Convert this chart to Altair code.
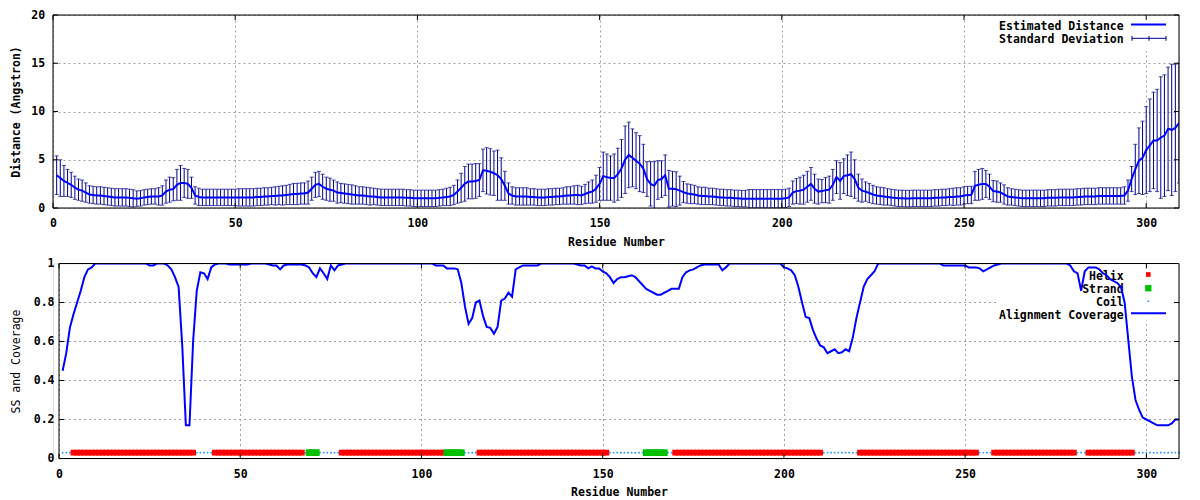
import altair as alt
import pandas as pd

# ---------------- data ----------------
residues = list(range(1, 310))

distance = [
    3.4, 3.1, 2.8, 2.6, 2.4, 2.1, 1.9, 1.8, 1.6, 1.4,
    1.35, 1.3, 1.3, 1.25, 1.2, 1.15, 1.1, 1.1, 1.1, 1.1,
    1.05, 1.0, 0.97, 1.0, 1.1, 1.15, 1.2, 1.2, 1.2, 1.3,
    1.7, 1.9, 1.95, 2.4, 2.6, 2.6, 2.5, 2.1, 1.3, 1.15,
    1.1, 1.1, 1.1, 1.1, 1.1, 1.1, 1.1, 1.1, 1.1, 1.1,
    1.1, 1.1, 1.1, 1.1, 1.1, 1.15, 1.15, 1.2, 1.2, 1.25,
    1.25, 1.3, 1.3, 1.35, 1.4, 1.45, 1.45, 1.5, 1.5, 1.6,
    2.0, 2.4, 2.5, 2.2, 2.0, 1.9, 1.8, 1.6, 1.55, 1.5,
    1.45, 1.4, 1.35, 1.3, 1.3, 1.25, 1.2, 1.2, 1.15, 1.1,
    1.1, 1.1, 1.1, 1.1, 1.1, 1.1, 1.05, 1.05, 1.0, 1.0,
    1.0, 1.0, 1.0, 1.0, 1.0, 1.05, 1.1, 1.15, 1.2, 1.35,
    1.7, 2.1, 2.5, 2.75, 2.75, 2.8, 2.9, 3.9, 3.85, 3.75,
    3.6, 3.4, 3.0, 2.3, 1.5, 1.3, 1.2, 1.2, 1.2, 1.2,
    1.15, 1.15, 1.1, 1.1, 1.1, 1.15, 1.15, 1.2, 1.2, 1.25,
    1.3, 1.3, 1.35, 1.35, 1.3, 1.45, 1.6, 1.7, 2.0, 2.5,
    3.3, 3.2, 3.1, 3.1, 3.5, 4.1, 5.0, 5.5, 5.2, 4.9,
    4.6, 4.1, 3.0, 2.5, 2.3, 2.9, 3.0, 3.4, 2.0, 2.0,
    1.95, 1.8, 1.65, 1.5, 1.45, 1.4, 1.3, 1.25, 1.25, 1.2,
    1.2, 1.15, 1.1, 1.1, 1.05, 1.05, 1.0, 1.0, 0.97, 0.97,
    0.96, 0.96, 0.96, 0.96, 0.96, 0.96, 0.96, 0.96, 0.96, 0.96,
    1.0, 1.1, 1.6, 1.75, 1.8, 1.9, 2.2, 2.5, 2.0, 1.7,
    1.75, 1.85, 1.9, 2.4, 3.2, 2.8, 3.3, 3.4, 3.5, 3.0,
    2.1, 1.8, 1.7, 1.55, 1.4, 1.3, 1.25, 1.2, 1.15, 1.1,
    1.05, 1.0, 1.0, 0.98, 0.98, 1.0, 1.0, 1.0, 1.0, 1.0,
    1.0, 1.05, 1.05, 1.1, 1.1, 1.15, 1.15, 1.2, 1.2, 1.3,
    1.35, 1.35, 2.3, 2.4, 2.5, 2.5, 2.2, 1.75, 1.7, 1.6,
    1.4, 1.2, 1.15, 1.1, 1.05, 1.0, 1.0, 1.0, 1.0, 1.0,
    1.0, 1.0, 1.05, 1.05, 1.05, 1.1, 1.1, 1.1, 1.1, 1.1,
    1.15, 1.15, 1.2, 1.2, 1.2, 1.2, 1.25, 1.25, 1.25, 1.25,
    1.25, 1.25, 1.25, 1.3, 1.8, 3.0, 4.0, 4.9, 5.2, 6.0,
    6.5, 7.0, 7.0, 7.3, 7.5, 8.2, 8.1, 8.3, 8.8,
]

std_dev = [
    2.0, 1.9, 1.6, 1.4, 1.3, 1.2, 1.1, 1.1, 1.0, 0.9,
    0.9, 0.9, 0.9, 0.9, 0.9, 0.9, 0.9, 0.9, 0.9, 0.9,
    0.9, 0.9, 0.8, 0.8, 0.8, 0.8, 0.8, 0.8, 0.9, 1.0,
    1.2, 1.3, 1.2, 1.6, 1.8, 1.5, 1.5, 1.1, 0.9, 0.9,
    0.85, 0.85, 0.85, 0.85, 0.85, 0.85, 0.85, 0.85, 0.85, 0.85,
    0.9, 0.9, 0.9, 0.9, 0.9, 0.9, 0.9, 0.9, 0.9, 0.9,
    0.95, 0.95, 1.0, 1.0, 1.05, 1.1, 1.1, 1.1, 1.1, 1.2,
    1.2, 1.3, 1.3, 1.3, 1.2, 1.2, 1.1, 1.1, 1.0, 1.0,
    1.0, 1.0, 0.95, 0.9, 0.9, 0.9, 0.9, 0.85, 0.85, 0.85,
    0.85, 0.85, 0.85, 0.85, 0.85, 0.85, 0.85, 0.85, 0.85, 0.85,
    0.85, 0.85, 0.85, 0.85, 0.85, 0.85, 0.85, 0.9, 0.95, 1.0,
    1.2, 1.5, 1.8, 1.8, 1.8, 1.8, 1.7, 2.2, 2.4, 2.4,
    2.3, 2.6, 2.2, 1.5, 1.1, 0.9, 0.9, 0.9, 0.9, 0.9,
    0.85, 0.85, 0.85, 0.85, 0.85, 0.85, 0.85, 0.85, 0.85, 0.85,
    0.9, 0.9, 0.95, 1.0, 0.95, 1.0, 1.1, 1.2, 1.4, 1.7,
    2.5, 2.4, 2.3, 2.5, 2.7, 3.0, 3.5, 3.4, 3.0, 2.9,
    2.9, 2.5, 1.8, 2.3, 2.5, 2.0, 1.9, 2.1, 1.9, 1.8,
    1.8, 1.5, 1.1, 1.0, 1.0, 0.95, 0.9, 0.9, 0.9, 0.85,
    0.85, 0.85, 0.85, 0.85, 0.85, 0.85, 0.85, 0.85, 0.85, 0.85,
    0.95, 0.95, 0.95, 0.95, 0.95, 0.95, 0.95, 0.95, 0.95, 0.95,
    0.95, 0.95, 1.2, 1.3, 1.4, 1.5, 1.6, 1.7, 1.5, 1.3,
    1.2, 1.3, 1.4, 1.6, 1.7, 1.9, 1.8, 2.1, 2.3, 2.0,
    1.4, 1.2, 1.0, 1.0, 0.95, 0.9, 0.9, 0.9, 0.85, 0.85,
    0.85, 0.85, 0.85, 0.85, 0.85, 0.85, 0.85, 0.85, 0.85, 0.85,
    0.85, 0.85, 0.85, 0.85, 0.85, 0.85, 0.9, 0.9, 0.9, 0.9,
    0.9, 0.9, 1.5, 1.6, 1.6, 1.4, 1.3, 1.1, 1.1, 1.0,
    1.0, 0.9, 0.85, 0.85, 0.85, 0.85, 0.85, 0.85, 0.85, 0.85,
    0.85, 0.85, 0.85, 0.85, 0.85, 0.85, 0.85, 0.85, 0.85, 0.85,
    0.85, 0.85, 0.85, 0.85, 0.85, 0.85, 0.85, 0.85, 0.85, 0.85,
    0.85, 0.85, 0.85, 0.9, 1.1, 1.3, 2.6, 3.4, 3.8, 4.5,
    4.8, 5.0, 5.3, 6.3, 6.3, 6.4, 6.8, 6.6, 6.2,
]

coverage = [
    0.45, 0.54, 0.67, 0.74, 0.80, 0.86, 0.93, 0.97, 0.98, 1.0,
    1.0, 1.0, 1.0, 1.0, 1.0, 1.0, 1.0, 1.0, 1.0, 1.0,
    1.0, 1.0, 1.0, 1.0, 0.99, 0.99, 1.0, 1.0, 1.0, 0.99,
    0.97, 0.93, 0.88, 0.58, 0.17, 0.17, 0.60, 0.86, 0.955, 0.95,
    0.92, 0.98, 0.995, 1.0, 1.0, 1.0, 0.995, 0.995, 0.995, 0.995,
    0.995, 0.995, 1.0, 1.0, 1.0, 1.0, 1.0, 0.995, 0.99, 0.99,
    0.97, 0.99, 0.995, 0.995, 0.995, 0.995, 0.995, 0.99, 0.98, 0.95,
    0.93, 0.975, 0.95, 0.92, 0.99, 0.965, 0.99, 0.995, 1.0, 1.0,
    1.0, 1.0, 1.0, 1.0, 1.0, 1.0, 1.0, 1.0, 1.0, 1.0,
    1.0, 1.0, 1.0, 1.0, 1.0, 1.0, 1.0, 1.0, 1.0, 1.0,
    1.0, 1.0, 1.0, 0.99, 0.99, 0.99, 0.975, 0.975, 0.975, 0.97,
    0.90, 0.78, 0.69, 0.72, 0.80, 0.81, 0.73, 0.675, 0.67, 0.64,
    0.675, 0.81, 0.82, 0.85, 0.83, 0.97, 0.98, 0.99, 0.99, 0.99,
    0.99, 0.99, 1.0, 1.0, 1.0, 1.0, 1.0, 1.0, 1.0, 1.0,
    1.0, 1.0, 0.995, 0.99, 0.99, 0.975, 0.985, 0.975, 0.975, 0.96,
    0.95, 0.93, 0.90, 0.92, 0.93, 0.93, 0.935, 0.94, 0.93, 0.91,
    0.89, 0.87, 0.86, 0.85, 0.84, 0.84, 0.85, 0.86, 0.87, 0.87,
    0.87, 0.93, 0.955, 0.965, 0.97, 0.98, 0.99, 0.995, 0.995, 0.995,
    0.995, 0.995, 0.965, 0.98, 1.0, 1.0, 1.0, 1.0, 1.0, 1.0,
    1.0, 1.0, 1.0, 1.0, 1.0, 1.0, 1.0, 1.0, 1.0, 0.98,
    0.975, 0.965, 0.94, 0.88, 0.80, 0.726, 0.72, 0.66, 0.615, 0.58,
    0.57, 0.54, 0.55, 0.56, 0.54, 0.545, 0.56, 0.55, 0.62, 0.72,
    0.80, 0.88, 0.92, 0.94, 0.96, 1.0, 1.0, 1.0, 1.0, 1.0,
    1.0, 1.0, 1.0, 1.0, 1.0, 1.0, 1.0, 1.0, 1.0, 1.0,
    1.0, 1.0, 1.0, 0.99, 0.99, 0.99, 0.99, 0.99, 0.99, 0.99,
    0.98, 0.98, 0.98, 0.975, 0.96, 0.97, 0.98, 0.99, 0.995, 1.0,
    1.0, 1.0, 1.0, 1.0, 1.0, 1.0, 1.0, 1.0, 1.0, 1.0,
    1.0, 1.0, 1.0, 1.0, 1.0, 1.0, 1.0, 1.0, 0.99, 0.96,
    0.95, 0.86, 0.96, 0.98, 0.98, 0.98, 0.97, 0.95, 0.94, 0.92,
    0.91, 0.90, 0.88, 0.80, 0.61, 0.42, 0.30, 0.25, 0.21, 0.20,
    0.19, 0.18, 0.17, 0.17, 0.17, 0.17, 0.18, 0.20, 0.20,
]

helix_segments = [(4, 37), (43, 67), (78, 106), (116, 151), (170, 210),
                  (221, 253), (258, 280), (284, 296)]
strand_segments = [(69, 71), (107, 111), (162, 167)]
ss_level = 0.03

x_ticks = [0, 50, 100, 150, 200, 250, 300]
top_y_ticks = [0, 5, 10, 15, 20]
bot_y_ticks = [0, 0.2, 0.4, 0.6, 0.8, 1.0]

assert len(distance) == 309 and len(std_dev) == 309 and len(coverage) == 309

# ---------------- tables ----------------
ss_type = []
for r in residues:
    t = "Coil"
    for a, b in helix_segments:
        if a <= r <= b:
            t = "Helix"
    for a, b in strand_segments:
        if a <= r <= b:
            t = "Strand"
    ss_type.append(t)

top_df = pd.DataFrame({"res": residues, "dist": distance, "sd": std_dev})
top_df["lo"] = top_df["dist"] - top_df["sd"]
top_df["hi"] = top_df["dist"] + top_df["sd"]

bot_df = pd.DataFrame({"res": residues, "cov": coverage, "ss": ss_type})
bot_df["level"] = ss_level

# ---------------- style ----------------
W = 1126            # group width of both panels
TOP_H, BOT_H = 193, 195
OFF = 6             # bottom plot area starts 6 px to the right of the top one
FONT = "DejaVu Sans Mono"
FS = 11.5
NAVY = "#00008b"
BLUE = "#0000ff"
GRID = "#a0a0a0"
RED = "#ff0000"
GREEN = "#00c000"
COIL = "#1e90ff"

xs_top = alt.Scale(domain=[0, 309], nice=False, zero=False)
ys_top = alt.Scale(domain=[0, 20], nice=False, zero=False)
xs_bot = alt.Scale(domain=[0, 309], range=[OFF, W], nice=False, zero=False)
ys_bot = alt.Scale(domain=[0, 1], nice=False, zero=False)


def x_axis(title_x):
    return alt.Axis(values=x_ticks, grid=True, gridColor=GRID, gridDash=[2, 3], gridWidth=1,
                    domain=False, ticks=False, tickSize=0, labelFlush=False, labelOverlap=False,
                    labelFont=FONT, labelFontSize=FS, labelFontWeight="bold", labelColor="black",
                    labelBaseline="top", labelPadding=9.5, labelAngle=0,
                    title="Residue Number", titleFont=FONT, titleFontSize=FS,
                    titleFontWeight="bold", titleColor="black",
                    titleBaseline="alphabetic", titleY=37, titleX=title_x)


def y_axis(values, title, title_x, height, pad, weight, grid, offset):
    return alt.Axis(values=values, format="~g", grid=grid, gridColor=GRID, gridDash=[2, 3],
                    gridWidth=1, domain=False, ticks=False, tickSize=0, labelFlush=False,
                    labelOverlap=False, labelFont=FONT, labelFontSize=FS,
                    labelFontWeight="bold", labelColor="black", labelAlign="right",
                    labelBaseline="middle", labelPadding=pad, offset=offset,
                    title=title, titleFont=FONT, titleFontSize=FS, titleFontWeight=weight,
                    titleColor="black", titleAngle=270, titleBaseline="bottom",
                    titleAlign="center", titleX=title_x, titleY=height / 2)


XA_TOP = x_axis(W / 2)
YA_TOP = y_axis(top_y_ticks, "Distance (Angstron)", -32, TOP_H, 8.4, "bold", True, 0)
XA_BOT = x_axis((W + OFF) / 2)
YA_BOT = y_axis(bot_y_ticks, "SS and Coverage", -38, BOT_H, 5, "normal", False, -OFF)


def one(label="x"):
    return pd.DataFrame({"label": [label]})


def text_at(label, x, y):
    return alt.Chart(one(label)).mark_text(
        align="right", baseline="alphabetic", font=FONT, fontSize=FS,
        fontWeight="bold", color="black").encode(
        x=alt.value(x), y=alt.value(y), text="label:N")


def rule_at(x, x2, y, y2, color, width, opacity=1):
    return alt.Chart(one()).mark_rule(color=color, strokeWidth=width, opacity=opacity).encode(
        x=alt.value(x), x2=alt.value(x2), y=alt.value(y), y2=alt.value(y2))


def frame(x0, x1, H, xs, ys, xscale, yscale, xa, ya):
    box = alt.Chart(one()).mark_rect(filled=False, stroke="black", strokeWidth=1).encode(
        x=alt.value(x0), x2=alt.value(x1), y=alt.value(0), y2=alt.value(H))
    xt = pd.DataFrame({"t": xs})
    yt = pd.DataFrame({"t": ys})
    xenc = alt.X("t:Q", scale=xscale, axis=xa)
    yenc = alt.Y("t:Q", scale=yscale, axis=ya)
    b = alt.Chart(xt).mark_rule(color="black").encode(x=xenc, y=alt.value(H), y2=alt.value(H - 5))
    t = alt.Chart(xt).mark_rule(color="black").encode(x=xenc, y=alt.value(0), y2=alt.value(5))
    l = alt.Chart(yt).mark_rule(color="black").encode(y=yenc, x=alt.value(x0), x2=alt.value(x0 + 5))
    r = alt.Chart(yt).mark_rule(color="black").encode(y=yenc, x=alt.value(x1 - 5), x2=alt.value(x1))
    return [box, b, t, l, r]


# ---------------- top panel ----------------
top_base = alt.Chart(top_df)
top_anchor = rule_at(-44, -44, 60, 61, "white", 1, 0)
top_bg = alt.Chart(one()).mark_rect(color="white").encode(
    x=alt.value(938), x2=alt.value(W - 1), y=alt.value(1), y2=alt.value(36))
err = top_base.mark_rule(color=NAVY, strokeWidth=1, clip=True).encode(
    x=alt.X("res:Q", scale=xs_top, axis=XA_TOP),
    y=alt.Y("lo:Q", scale=ys_top, axis=YA_TOP), y2="hi:Q")
cap_hi = top_base.mark_tick(color=NAVY, orient="horizontal", size=4, thickness=1, clip=True).encode(
    x=alt.X("res:Q", scale=xs_top, axis=XA_TOP), y=alt.Y("hi:Q", scale=ys_top, axis=YA_TOP))
cap_lo = top_base.mark_tick(color=NAVY, orient="horizontal", size=4, thickness=1, clip=True).encode(
    x=alt.X("res:Q", scale=xs_top, axis=XA_TOP), y=alt.Y("lo:Q", scale=ys_top, axis=YA_TOP))
dist_line = top_base.mark_line(color=BLUE, strokeWidth=2, clip=True).encode(
    x=alt.X("res:Q", scale=xs_top, axis=XA_TOP),
    y=alt.Y("dist:Q", scale=ys_top, axis=YA_TOP))

top_legend = [
    text_at("Estimated Distance", 1070.7, 15),
    rule_at(1078, 1113, 9.5, 9.5, BLUE, 2),
    text_at("Standard Deviation", 1070.7, 28.3),
    rule_at(1079, 1113, 23.3, 23.3, NAVY, 1),
    rule_at(1079, 1079, 20.8, 25.8, NAVY, 1),
    rule_at(1096, 1096, 20.8, 25.8, NAVY, 1),
    rule_at(1113, 1113, 20.8, 25.8, NAVY, 1),
]

top = alt.layer(top_anchor, top_bg, err, cap_hi, cap_lo, dist_line, *top_legend,
                *frame(0, W, TOP_H, x_ticks, top_y_ticks, xs_top, ys_top, XA_TOP, YA_TOP)).properties(
    width=W, height=TOP_H)

# ---------------- bottom panel ----------------
bot_base = alt.Chart(bot_df)
bot_anchor = rule_at(-44, -44, 60, 61, "white", 1, 0)
bot_grid = alt.Chart(pd.DataFrame({"t": bot_y_ticks[1:-1]})).mark_rule(
    color=GRID, strokeWidth=1, strokeDash=[2, 3]).encode(
    y=alt.Y("t:Q", scale=ys_bot, axis=YA_BOT), x=alt.value(OFF), x2=alt.value(W))
bot_bg = alt.Chart(one()).mark_rect(color="white").encode(
    x=alt.value(937 + OFF), x2=alt.value(W - 1), y=alt.value(1), y2=alt.value(57))


def ss_layer(kind, color, size):
    return bot_base.transform_filter(alt.datum.ss == kind).mark_square(
        color=color, size=size, opacity=1).encode(
        x=alt.X("res:Q", scale=xs_bot, axis=XA_BOT),
        y=alt.Y("level:Q", scale=ys_bot, axis=YA_BOT))


coil = ss_layer("Coil", COIL, 2.5)
helix = ss_layer("Helix", RED, 34)
strand = ss_layer("Strand", GREEN, 45)
cov_line = bot_base.mark_line(color=BLUE, strokeWidth=2, clip=True).encode(
    x=alt.X("res:Q", scale=xs_bot, axis=XA_BOT),
    y=alt.Y("cov:Q", scale=ys_bot, axis=YA_BOT))


def marker_at(x, y, color, size):
    return alt.Chart(one()).mark_square(color=color, size=size, opacity=1).encode(
        x=alt.value(x), y=alt.value(y))


LX = 1064.7 + OFF
MX = 1089.3 + OFF
bot_legend = [
    text_at("Helix", LX, 16.3),
    marker_at(MX, 11, RED, 22),
    text_at("Strand", LX, 29.3),
    marker_at(MX, 24.7, GREEN, 40),
    text_at("Coil", LX, 42.3),
    marker_at(MX, 37.7, COIL, 2.5),
    text_at("Alignment Coverage", LX, 55.3),
    rule_at(1072 + OFF, 1107 + OFF, 49.7, 49.7, BLUE, 2),
]

bottom = alt.layer(bot_anchor, bot_grid, bot_bg, coil, helix, strand, *bot_legend, cov_line,
                   *frame(OFF, W, BOT_H, x_ticks, bot_y_ticks, xs_bot, ys_bot, XA_BOT, YA_BOT)).properties(
    width=W, height=BOT_H)

chart = alt.vconcat(top, bottom, spacing=8.5).resolve_scale(
    x="independent", y="independent").properties(
    padding={"left": 0, "top": 0, "right": 5, "bottom": 5}
).configure_view(stroke=None).configure(background="white")

chart.save("out.html", embed_options={"renderer": "svg", "actions": False})
